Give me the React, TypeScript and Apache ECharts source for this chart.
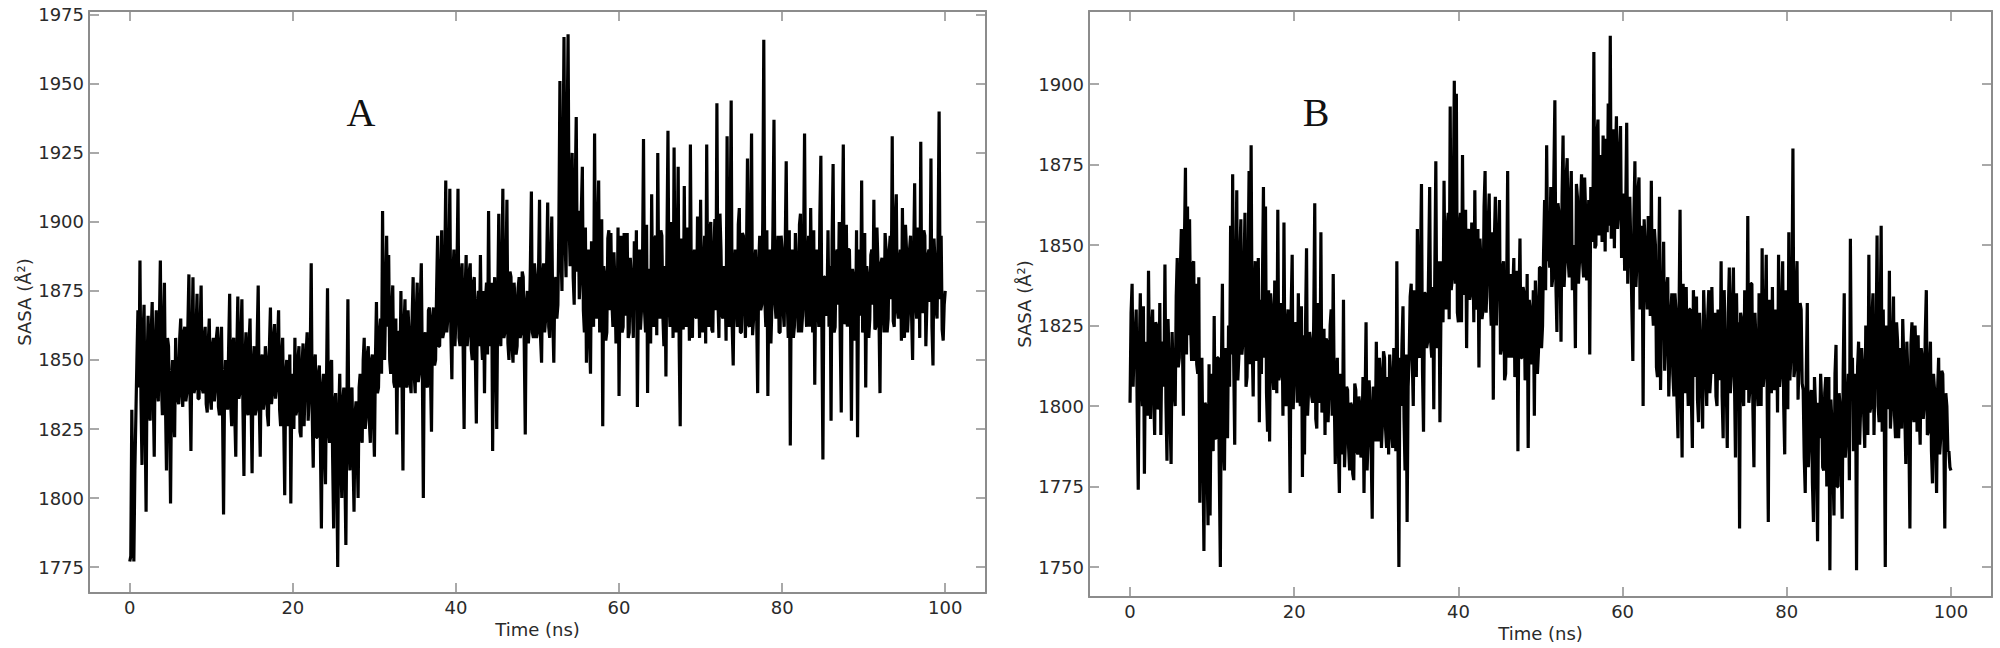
import React, { useEffect, useRef } from "react";
import * as echarts from "echarts";

// samples every 0.125 ns: "main" values at multiples of 0.25 ns, "between" values half a step later
const timeStep = 0.25;

// SASA (Å²) of panel A at t = 0, 0.25, 0.5 ... 100 ns
const sasaA: number[] = [
  1777, 1832, 1777, 1830, 1868, 1886, 1812, 1870, 1795, 1866, 1828, 1871, 1815, 1868, 1835, 1886, 1830, 1878, 1810, 1855,
  1798, 1850, 1822, 1845, 1834, 1865, 1833, 1862, 1838, 1881, 1817, 1880, 1840, 1874, 1836, 1877, 1838, 1862, 1831, 1865,
  1832, 1858, 1840, 1862, 1830, 1862, 1794, 1850, 1832, 1874, 1826, 1858, 1815, 1873, 1838, 1872, 1808, 1860, 1830, 1865,
  1809, 1855, 1832, 1877, 1815, 1852, 1835, 1850, 1826, 1869, 1838, 1863, 1840, 1868, 1826, 1858, 1801, 1850, 1836, 1798,
  1845, 1858, 1832, 1855, 1822, 1856, 1840, 1860, 1836, 1885, 1811, 1852, 1822, 1848, 1789, 1845, 1805, 1876, 1820, 1850,
  1789, 1838, 1775, 1845, 1800, 1840, 1783, 1872, 1810, 1840, 1795, 1835, 1800, 1845, 1820, 1858, 1830, 1855, 1820, 1852,
  1815, 1871, 1840, 1865, 1904, 1850, 1895, 1888, 1845, 1877, 1840, 1823, 1860, 1875, 1810, 1872, 1840, 1860, 1838, 1880,
  1838, 1878, 1845, 1885, 1800, 1860, 1840, 1869, 1824, 1869, 1850, 1895, 1855, 1897, 1860, 1915, 1865, 1912, 1843, 1890,
  1865, 1912, 1855, 1885, 1825, 1888, 1860, 1885, 1850, 1880, 1827, 1875, 1888, 1850, 1838, 1878, 1904, 1855, 1817, 1880,
  1825, 1903, 1855, 1912, 1860, 1908, 1850, 1880, 1849, 1872, 1855, 1880, 1860, 1880, 1823, 1875, 1862, 1911, 1858, 1880,
  1860, 1908, 1849, 1885, 1865, 1907, 1858, 1902, 1849, 1880, 1870, 1951, 1875, 1967, 1880, 1968, 1884, 1925, 1870, 1938,
  1904, 1880, 1920, 1860, 1849, 1890, 1845, 1880, 1932, 1865, 1915, 1870, 1826, 1880, 1860, 1897, 1896, 1862, 1877, 1860,
  1837, 1895, 1862, 1890, 1896, 1860, 1880, 1858, 1870, 1833, 1890, 1868, 1930, 1860, 1838, 1880, 1910, 1862, 1895, 1925,
  1865, 1895, 1855, 1844, 1933, 1862, 1890, 1927, 1860, 1920, 1826, 1880, 1913, 1862, 1890, 1928, 1858, 1890, 1865, 1880,
  1908, 1860, 1895, 1928, 1862, 1900, 1860, 1901, 1943, 1858, 1890, 1865, 1880, 1931, 1862, 1944, 1848, 1890, 1862, 1905,
  1860, 1895, 1858, 1923, 1862, 1932, 1865, 1890, 1838, 1895, 1870, 1966, 1862, 1837, 1890, 1870, 1937, 1865, 1895, 1860,
  1890, 1862, 1922, 1858, 1819, 1890, 1862, 1885, 1860, 1903, 1866, 1932, 1862, 1895, 1905, 1860, 1841, 1890, 1862, 1924,
  1814, 1880, 1869, 1862, 1828, 1921, 1862, 1890, 1900, 1831, 1928, 1865, 1862, 1890, 1828, 1880, 1860, 1822, 1890, 1915,
  1862, 1840, 1880, 1865, 1890, 1908, 1862, 1885, 1838, 1887, 1860, 1890, 1865, 1895, 1931, 1862, 1910, 1865, 1890, 1905,
  1858, 1890, 1868, 1895, 1850, 1914, 1865, 1890, 1929, 1867, 1895, 1870, 1890, 1923, 1848, 1885, 1865, 1940, 1895, 1857,
  1875,
];

// SASA (Å²) of panel A at t = 0.125, 0.375 ... 99.875 ns
const sasaABetween: number[] = [
  1779, 1800, 1810, 1850, 1840, 1835, 1858, 1830, 1848, 1832, 1860, 1838, 1855, 1840, 1862, 1842, 1860, 1835, 1858, 1832,
  1842, 1830, 1858, 1836, 1858, 1838, 1860, 1835, 1862, 1840, 1855, 1838, 1860, 1836, 1862, 1840, 1858, 1834, 1856, 1836,
  1855, 1835, 1858, 1833, 1856, 1832, 1840, 1835, 1855, 1834, 1856, 1830, 1852, 1836, 1858, 1833, 1850, 1832, 1856, 1835,
  1848, 1830, 1858, 1834, 1850, 1832, 1855, 1830, 1855, 1834, 1858, 1836, 1856, 1832, 1852, 1828, 1845, 1826, 1852, 1840,
  1825, 1830, 1850, 1824, 1848, 1826, 1852, 1828, 1850, 1830, 1848, 1822, 1845, 1820, 1840, 1818, 1842, 1825, 1848, 1815,
  1835, 1812, 1830, 1815, 1835, 1810, 1832, 1820, 1838, 1815, 1830, 1818, 1840, 1822, 1850, 1825, 1852, 1828, 1850, 1830,
  1850, 1838, 1860, 1845, 1860, 1872, 1862, 1850, 1868, 1842, 1865, 1860, 1840, 1845, 1862, 1842, 1868, 1842, 1865, 1845,
  1866, 1842, 1870, 1848, 1858, 1842, 1868, 1845, 1865, 1848, 1875, 1855, 1880, 1858, 1882, 1860, 1885, 1860, 1880, 1855,
  1882, 1858, 1880, 1856, 1875, 1855, 1882, 1854, 1878, 1852, 1870, 1855, 1858, 1875, 1872, 1852, 1860, 1878, 1870, 1855,
  1872, 1860, 1880, 1858, 1880, 1856, 1882, 1855, 1878, 1852, 1876, 1858, 1882, 1855, 1870, 1856, 1884, 1860, 1885, 1858,
  1882, 1858, 1880, 1860, 1885, 1862, 1884, 1865, 1878, 1865, 1900, 1890, 1920, 1895, 1930, 1900, 1910, 1880, 1912, 1882,
  1872, 1904, 1868, 1898, 1886, 1858, 1893, 1862, 1870, 1897, 1860, 1901, 1884, 1857, 1894, 1868, 1871, 1889, 1856, 1898,
  1883, 1860, 1896, 1866, 1858, 1887, 1870, 1893, 1897, 1876, 1861, 1884, 1868, 1899, 1883, 1856, 1870, 1894, 1859, 1872,
  1897, 1866, 1884, 1893, 1872, 1900, 1858, 1870, 1887, 1855, 1894, 1861, 1869, 1898, 1857, 1873, 1886, 1866, 1902, 1858,
  1869, 1885, 1856, 1874, 1897, 1861, 1889, 1868, 1872, 1903, 1866, 1884, 1857, 1872, 1896, 1862, 1882, 1870, 1899, 1860,
  1896, 1870, 1887, 1863, 1898, 1859, 1885, 1866, 1884, 1868, 1901, 1872, 1897, 1882, 1856, 1899, 1871, 1886, 1860, 1895,
  1868, 1890, 1872, 1897, 1883, 1858, 1896, 1867, 1899, 1860, 1888, 1870, 1887, 1862, 1873, 1897, 1882, 1869, 1902, 1861,
  1880, 1866, 1897, 1884, 1893, 1860, 1888, 1870, 1858, 1894, 1863, 1899, 1890, 1867, 1883, 1857, 1897, 1880, 1866, 1860,
  1896, 1884, 1858, 1888, 1870, 1861, 1898, 1866, 1885, 1869, 1896, 1860, 1889, 1872, 1864, 1900, 1868, 1886, 1857, 1872,
  1899, 1860, 1890, 1866, 1887, 1871, 1898, 1858, 1869, 1897, 1855, 1888, 1871, 1862, 1894, 1868, 1896, 1872, 1861, 1870,
];

// SASA (Å²) of panel B at t = 0, 0.25, 0.5 ... 100 ns
const sasaB: number[] = [
  1801, 1838, 1819, 1830, 1774, 1835, 1800, 1779, 1820, 1842, 1796, 1830, 1791, 1825, 1800, 1791, 1820, 1844, 1783, 1815,
  1782, 1810, 1800, 1846, 1815, 1855, 1797, 1874, 1862, 1858, 1814, 1845, 1838, 1810, 1770, 1815, 1755, 1800, 1763, 1766,
  1810, 1828, 1790, 1815, 1750, 1838, 1780, 1815, 1825, 1856, 1872, 1788, 1867, 1815, 1858, 1820, 1860, 1809, 1873, 1881,
  1803, 1845, 1820, 1795, 1810, 1868, 1862, 1792, 1789, 1830, 1805, 1835, 1861, 1810, 1830, 1857, 1800, 1830, 1773, 1847,
  1810, 1825, 1835, 1800, 1778, 1785, 1849, 1805, 1820, 1801, 1863, 1793, 1815, 1854, 1800, 1791, 1820, 1805, 1830, 1841,
  1782, 1815, 1773, 1805, 1833, 1790, 1805, 1780, 1800, 1777, 1805, 1785, 1800, 1790, 1773, 1826, 1790, 1800, 1765, 1805,
  1820, 1789, 1810, 1795, 1815, 1787, 1785, 1810, 1787, 1812, 1845, 1750, 1800, 1831, 1780, 1764, 1815, 1838, 1800, 1830,
  1855, 1815, 1869, 1792, 1835, 1820, 1868, 1815, 1799, 1876, 1820, 1795, 1845, 1870, 1830, 1860, 1893, 1840, 1901, 1897,
  1826, 1860, 1878, 1835, 1818, 1855, 1835, 1850, 1867, 1830, 1812, 1845, 1830, 1873, 1840, 1866, 1825, 1802, 1865, 1840,
  1864, 1818, 1845, 1810, 1873, 1830, 1815, 1846, 1820, 1786, 1852, 1815, 1835, 1810, 1787, 1830, 1815, 1797, 1830, 1817,
  1843, 1825, 1864, 1881, 1850, 1868, 1840, 1895, 1823, 1860, 1820, 1884, 1845, 1877, 1840, 1873, 1850, 1818, 1865, 1845,
  1872, 1840, 1860, 1850, 1816, 1855, 1910, 1850, 1889, 1860, 1851, 1875, 1883, 1894, 1915, 1870, 1849, 1890, 1860, 1887,
  1855, 1842, 1888, 1860, 1850, 1814, 1876, 1845, 1871, 1835, 1800, 1850, 1830, 1845, 1870, 1825, 1850, 1809, 1865, 1830,
  1851, 1820, 1840, 1815, 1835, 1803, 1830, 1790, 1861, 1784, 1825, 1837, 1800, 1830, 1787, 1825, 1834, 1795, 1820, 1793,
  1825, 1800, 1836, 1810, 1820, 1829, 1800, 1825, 1845, 1790, 1820, 1787, 1843, 1810, 1843, 1784, 1815, 1762, 1827, 1800,
  1820, 1859, 1805, 1838, 1781, 1820, 1800, 1815, 1849, 1810, 1847, 1764, 1820, 1837, 1805, 1825, 1847, 1810, 1845, 1785,
  1825, 1854, 1815, 1880, 1812, 1845, 1815, 1830, 1805, 1773, 1832, 1790, 1805, 1764, 1800, 1758, 1790, 1801, 1780, 1809,
  1790, 1749, 1795, 1766, 1819, 1775, 1800, 1765, 1835, 1790, 1810, 1852, 1815, 1790, 1749, 1820, 1800, 1812, 1787, 1815,
  1847, 1800, 1835, 1810, 1853, 1795, 1856, 1830, 1750, 1810, 1842, 1800, 1834, 1790, 1820, 1805, 1793, 1815, 1782, 1810,
  1762, 1826, 1795, 1815, 1822, 1788, 1815, 1800, 1836, 1792, 1820, 1776, 1805, 1773, 1815, 1790, 1810, 1762, 1800, 1786,
  1780,
];

// SASA (Å²) of panel B at t = 0.125, 0.375 ... 99.875 ns
const sasaBBetween: number[] = [
  1829, 1806, 1822, 1798, 1817, 1808, 1831, 1818, 1797, 1810, 1824, 1804, 1826, 1799, 1832, 1819, 1806, 1801, 1827, 1796,
  1823, 1804, 1834, 1812, 1842, 1822, 1851, 1816, 1822, 1826, 1844, 1814, 1813, 1840, 1806, 1786, 1801, 1783, 1813, 1804,
  1786, 1790, 1815, 1779, 1811, 1788, 1818, 1790, 1806, 1816, 1814, 1838, 1808, 1847, 1816, 1841, 1806, 1843, 1813, 1820,
  1836, 1814, 1846, 1833, 1838, 1815, 1804, 1836, 1835, 1810, 1839, 1804, 1808, 1832, 1797, 1806, 1825, 1803, 1830, 1799,
  1826, 1801, 1805, 1831, 1822, 1825, 1797, 1823, 1803, 1827, 1796, 1832, 1801, 1798, 1824, 1821, 1795, 1825, 1797, 1803,
  1809, 1788, 1810, 1785, 1781, 1806, 1787, 1801, 1779, 1807, 1786, 1803, 1784, 1809, 1800, 1780, 1808, 1786, 1806, 1789,
  1794, 1815, 1787, 1817, 1793, 1809, 1816, 1791, 1818, 1786, 1794, 1815, 1819, 1796, 1816, 1806, 1834, 1815, 1836, 1809,
  1816, 1843, 1811, 1835, 1818, 1844, 1820, 1837, 1842, 1818, 1845, 1830, 1826, 1836, 1855, 1827, 1836, 1862, 1838, 1829,
  1855, 1826, 1835, 1861, 1854, 1833, 1857, 1826, 1833, 1855, 1852, 1827, 1862, 1829, 1856, 1834, 1854, 1851, 1825, 1853,
  1816, 1843, 1808, 1834, 1815, 1841, 1836, 1809, 1842, 1832, 1815, 1837, 1808, 1841, 1833, 1813, 1836, 1839, 1810, 1843,
  1818, 1848, 1836, 1845, 1843, 1837, 1871, 1838, 1863, 1844, 1865, 1837, 1871, 1845, 1864, 1836, 1843, 1869, 1838, 1862,
  1845, 1871, 1839, 1864, 1868, 1851, 1849, 1884, 1853, 1878, 1884, 1848, 1854, 1856, 1852, 1886, 1876, 1855, 1879, 1846,
  1866, 1860, 1838, 1865, 1831, 1858, 1837, 1867, 1830, 1856, 1858, 1838, 1859, 1828, 1831, 1855, 1812, 1838, 1805, 1832,
  1811, 1837, 1803, 1829, 1810, 1835, 1802, 1828, 1809, 1838, 1804, 1811, 1830, 1803, 1836, 1809, 1802, 1829, 1808, 1836,
  1809, 1828, 1804, 1837, 1810, 1803, 1830, 1808, 1803, 1836, 1808, 1829, 1804, 1831, 1809, 1835, 1826, 1829, 1805, 1836,
  1805, 1801, 1838, 1799, 1829, 1806, 1835, 1800, 1806, 1828, 1799, 1833, 1804, 1807, 1830, 1798, 1806, 1831, 1800, 1836,
  1799, 1808, 1831, 1809, 1836, 1802, 1832, 1807, 1784, 1810, 1781, 1803, 1776, 1809, 1783, 1801, 1810, 1781, 1804, 1775,
  1809, 1802, 1782, 1810, 1775, 1804, 1783, 1811, 1784, 1802, 1777, 1805, 1786, 1810, 1812, 1788, 1818, 1797, 1825, 1791,
  1798, 1827, 1791, 1819, 1800, 1826, 1792, 1797, 1825, 1799, 1793, 1820, 1797, 1826, 1790, 1818, 1827, 1798, 1820, 1791,
  1819, 1798, 1825, 1792, 1799, 1818, 1796, 1823, 1791, 1812, 1786, 1810, 1789, 1805, 1785, 1811, 1792, 1804, 1786, 1781,
];

const xTicks = [0, 20, 40, 60, 80, 100];
const yTicksA = [1775, 1800, 1825, 1850, 1875, 1900, 1925, 1950, 1975];
const yTicksB = [1750, 1775, 1800, 1825, 1850, 1875, 1900];
const panelLabels = ["A", "B"];
const xName = "Time (ns)";
const yName = "SASA (Å²)";

const AXIS_COLOR = "#8c8c8c";
const LABEL_COLOR = "#2a2a2a";
const FONT = "'DejaVu Sans', sans-serif";
const plain = (v: number) => String(v);

function buildSeriesData(main: number[], between: number[]) {
  const out: number[][] = [];
  main.forEach((v, i) => {
    out.push([i * timeStep, v]);
    if (i < between.length) out.push([i * timeStep + timeStep / 2, between[i]]);
  });
  return out;
}

function xAxisPair(gridIndex: number, nameGap: number) {
  const base = {
    type: "value" as const,
    gridIndex,
    min: -5,
    max: 105,
    splitLine: { show: false },
    axisLine: { show: true, onZero: false, lineStyle: { color: AXIS_COLOR, width: 2 } },
    axisTick: { show: true, inside: true, length: 10, customValues: xTicks, lineStyle: { color: AXIS_COLOR, width: 1.5 } },
  };
  return [
    {
      ...base,
      position: "bottom",
      name: xName,
      nameLocation: "middle",
      nameGap,
      nameTextStyle: { fontSize: 18, color: LABEL_COLOR, fontFamily: FONT },
      axisLabel: { customValues: xTicks, formatter: plain, fontSize: 18, color: LABEL_COLOR, fontFamily: FONT, margin: 5 },
    },
    {
      ...base,
      position: "top",
      axisLabel: { show: false },
    },
  ];
}

function yAxisPair(gridIndex: number, min: number, max: number, ticks: number[]) {
  const base = {
    type: "value" as const,
    gridIndex,
    min,
    max,
    splitLine: { show: false },
    axisLine: { show: true, onZero: false, lineStyle: { color: AXIS_COLOR, width: 2 } },
    axisTick: { show: true, inside: true, length: 10, customValues: ticks, lineStyle: { color: AXIS_COLOR, width: 1.5 } },
  };
  return [
    {
      ...base,
      position: "left",
      name: yName,
      nameLocation: "middle",
      nameRotate: 90,
      nameGap: 56,
      nameTextStyle: { fontSize: 18, color: LABEL_COLOR, fontFamily: FONT },
      axisLabel: { customValues: ticks, formatter: plain, fontSize: 18, color: LABEL_COLOR, fontFamily: FONT, margin: 5 },
    },
    {
      ...base,
      position: "right",
      axisLabel: { show: false },
    },
  ];
}

export default function App() {
  const ref = useRef<HTMLDivElement>(null);

  useEffect(() => {
    if (!ref.current) return;
    const chart = echarts.init(ref.current, undefined, { renderer: "svg" });
    const dataA = buildSeriesData(sasaA, sasaABetween);
    const dataB = buildSeriesData(sasaB, sasaBBetween);

    chart.setOption({
      animation: false,
      backgroundColor: "#ffffff",
      grid: [
        { left: 89, top: 11, width: 897, height: 582 },
        { left: 1089, top: 11, width: 903, height: 586 },
      ],
      xAxis: [...xAxisPair(0, 21), ...xAxisPair(1, 25)],
      yAxis: [
        ...yAxisPair(0, 1765.6, 1976.4, yTicksA),
        ...yAxisPair(1, 1740.7, 1922.7, yTicksB),
      ],
      series: [
        {
          type: "line",
          name: panelLabels[0],
          xAxisIndex: 0,
          yAxisIndex: 0,
          data: dataA,
          showSymbol: false,
          symbol: "none",
          lineStyle: { color: "#000000", width: 3.2 },
          silent: true,
        },
        {
          type: "line",
          name: panelLabels[1],
          xAxisIndex: 2,
          yAxisIndex: 2,
          data: dataB,
          showSymbol: false,
          symbol: "none",
          lineStyle: { color: "#000000", width: 3.2 },
          silent: true,
        },
      ],
      graphic: [
        {
          type: "text",
          x: 361,
          y: 112,
          style: {
            text: panelLabels[0],
            font: "40px 'Liberation Serif', serif",
            fill: "#111111",
            align: "center",
            verticalAlign: "middle",
          },
        },
        {
          type: "text",
          x: 1316,
          y: 112,
          style: {
            text: panelLabels[1],
            font: "40px 'Liberation Serif', serif",
            fill: "#111111",
            align: "center",
            verticalAlign: "middle",
          },
        },
      ],
    });

    return () => {
      chart.dispose();
    };
  }, []);

  return (
    <div
      ref={ref}
      style={{ position: "absolute", left: 0, top: 0, width: 2000, height: 648 }}
    />
  );
}
